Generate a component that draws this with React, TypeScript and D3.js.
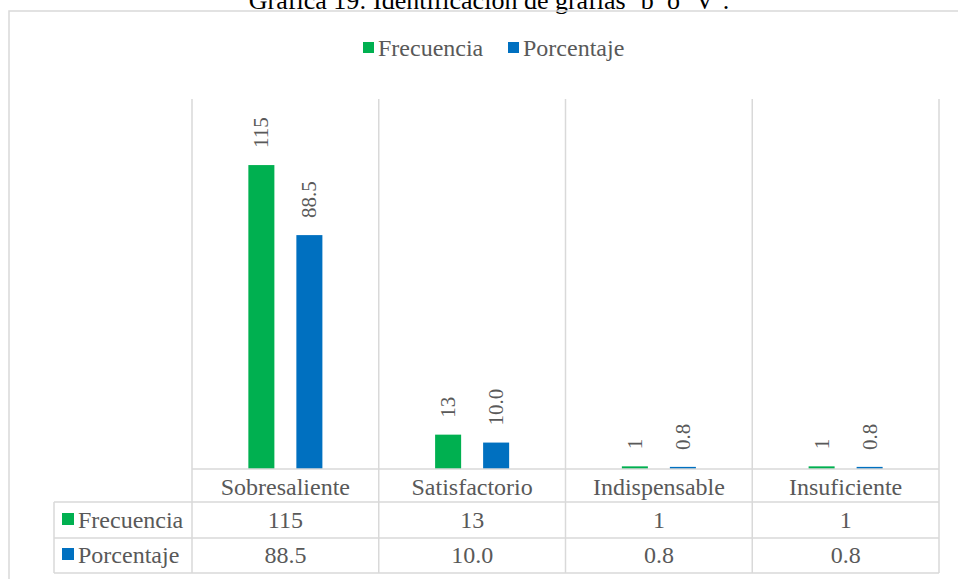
import { FC, useEffect, useRef } from "react";
import * as d3 from "d3";

const title = "Gráfica 19: Identificación de grafías ‘b’ ó ‘V’.";
const categories = ["Sobresaliente", "Satisfactorio", "Indispensable", "Insuficiente"];
const seriesNames = ["Frecuencia", "Porcentaje"];
const frecuencia = [115, 13, 1, 1];
const porcentaje = [88.5, 10.0, 0.8, 0.8];
const frecuenciaLabels = ["115", "13", "1", "1"];
const porcentajeLabels = ["88.5", "10.0", "0.8", "0.8"];
const colors = ["#00B050", "#0070C0"];

const width = 958;
const height = 579;
const plotLeft = 192;
const plotRight = 939;
const plotTop = 99;
const plotBottom = 469;
const tableLeft = 54;
const rowLines = [502, 538, 573];
const grid = "#d9d9d9";
const textColor = "#595959";
const font = "'Liberation Serif', 'Times New Roman', serif";

const ChartTable: FC = () => {
    const svgRef = useRef<SVGSVGElement>(null);

    useEffect(() => {
        if (!svgRef.current) return;
        const svg = d3.select(svgRef.current);
        svg.attr("width", width).attr("height", height).style("font-family", font);

        const values = [frecuencia, porcentaje];
        const labels = [frecuenciaLabels, porcentajeLabels];

        const x0 = d3.scaleBand<string>().domain(categories).range([plotLeft, plotRight]);
        const x1 = d3
            .scaleBand<string>()
            .domain(seriesNames)
            .range([0, x0.bandwidth()])
            .paddingInner(0.458)
            .paddingOuter(1.174);
        const y = d3.scaleLinear().domain([0, 140]).range([plotBottom, plotTop]);

        // title (cut by the top of the picture)
        svg.append("text")
            .attr("x", 489)
            .attr("y", 9)
            .attr("text-anchor", "middle")
            .attr("font-size", 26)
            .attr("fill", "#000")
            .text(title);

        // outer frame
        svg.append("rect")
            .attr("x", 9)
            .attr("y", 11)
            .attr("width", 960)
            .attr("height", 600)
            .attr("fill", "none")
            .attr("stroke", grid)
            .attr("stroke-width", 1.5);

        // legend
        const legend = svg.append("g").attr("transform", "translate(363,0)");
        const legendX = [0, 145];
        seriesNames.forEach((s, i) => {
            legend.append("rect")
                .attr("x", legendX[i])
                .attr("y", 42)
                .attr("width", 11)
                .attr("height", 11)
                .attr("fill", colors[i]);
            legend.append("text")
                .attr("x", legendX[i] + 15)
                .attr("y", 56)
                .attr("font-size", 24)
                .attr("fill", textColor)
                .text(s);
        });

        // vertical grid lines through chart and table
        const bounds = [...categories.map((c) => x0(c) as number), plotRight];
        svg.append("g")
            .selectAll("line")
            .data(bounds)
            .join("line")
            .attr("x1", (d) => d)
            .attr("x2", (d) => d)
            .attr("y1", plotTop)
            .attr("y2", rowLines[2])
            .attr("stroke", grid)
            .attr("stroke-width", 1.5);

        // bars
        values.forEach((vals, si) => {
            svg.append("g")
                .selectAll("rect")
                .data(vals)
                .join("rect")
                .attr("x", (_, i) => (x0(categories[i]) as number) + (x1(seriesNames[si]) as number))
                .attr("y", (d) => y(d))
                .attr("width", x1.bandwidth())
                .attr("height", (d) => y(0) - y(d))
                .attr("fill", colors[si]);

            svg.append("g")
                .selectAll("text")
                .data(vals)
                .join("text")
                .attr(
                    "transform",
                    (d, i) =>
                        `translate(${(x0(categories[i]) as number) + (x1(seriesNames[si]) as number) + x1.bandwidth() / 2},${y(d) - 17}) rotate(-90)`
                )
                .attr("dy", "0.33em")
                .attr("font-size", 21)
                .attr("fill", textColor)
                .text((_, i) => labels[si][i]);
        });

        // axis line and table rules
        svg.append("line")
            .attr("x1", plotLeft)
            .attr("x2", plotRight)
            .attr("y1", plotBottom)
            .attr("y2", plotBottom)
            .attr("stroke", grid)
            .attr("stroke-width", 1.5);
        svg.append("g")
            .selectAll("line")
            .data(rowLines)
            .join("line")
            .attr("x1", tableLeft)
            .attr("x2", plotRight)
            .attr("y1", (d) => d)
            .attr("y2", (d) => d)
            .attr("stroke", grid)
            .attr("stroke-width", 1.5);
        svg.append("line")
            .attr("x1", tableLeft)
            .attr("x2", tableLeft)
            .attr("y1", rowLines[0])
            .attr("y2", rowLines[2])
            .attr("stroke", grid)
            .attr("stroke-width", 1.5);

        // category labels
        svg.append("g")
            .selectAll("text")
            .data(categories)
            .join("text")
            .attr("x", (d) => (x0(d) as number) + x0.bandwidth() / 2)
            .attr("y", 495)
            .attr("text-anchor", "middle")
            .attr("font-size", 24)
            .attr("fill", textColor)
            .text((d) => d);

        // table rows
        const rowBase = [528, 563];
        seriesNames.forEach((s, si) => {
            svg.append("rect")
                .attr("x", 62)
                .attr("y", rowBase[si] - 15)
                .attr("width", 12)
                .attr("height", 12)
                .attr("fill", colors[si]);
            svg.append("text")
                .attr("x", 78)
                .attr("y", rowBase[si])
                .attr("font-size", 24)
                .attr("fill", textColor)
                .text(s);
            svg.append("g")
                .selectAll("text")
                .data(labels[si])
                .join("text")
                .attr("x", (_, i) => (x0(categories[i]) as number) + x0.bandwidth() / 2)
                .attr("y", rowBase[si])
                .attr("text-anchor", "middle")
                .attr("font-size", 24)
                .attr("fill", textColor)
                .text((d) => d);
        });

        return () => {
            svg.selectAll("*").remove();
        };
    }, []);

    return <svg ref={svgRef} style={{ display: "block" }} />;
};

export default function App() {
    return (
        <div style={{ position: "absolute", left: 0, top: 0, background: "#fff" }}>
            <ChartTable />
        </div>
    );
}
